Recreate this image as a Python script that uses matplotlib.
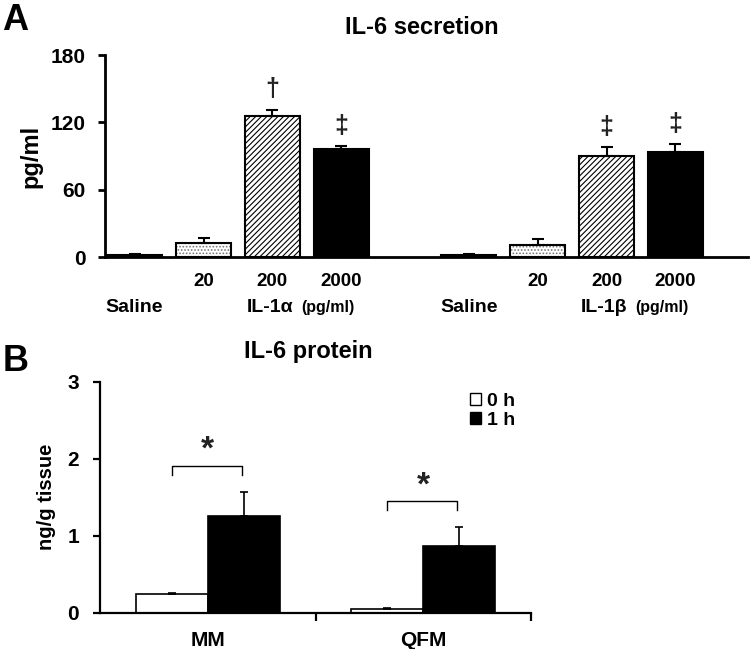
import matplotlib
matplotlib.use("Agg")
import matplotlib.pyplot as plt
import matplotlib.transforms as mtransforms
from matplotlib.patches import Patch

plt.rcParams['font.family'] = ['Liberation Sans', 'DejaVu Sans']
plt.rcParams['font.weight'] = 'bold'
plt.rcParams['hatch.linewidth'] = 0.8

# panel A: IL-6 secretion (pg/ml)
doses = ['', '20', '200', '2000']
alpha_vals = [1.5, 12.5, 126, 96]
alpha_err = [1.0, 4.5, 5.5, 3.0]
beta_vals = [1.5, 11.0, 90.5, 93.5]
beta_err = [0.8, 5.5, 7.5, 7.0]
alpha_marks = ['', '', '\u2020', '\u2021']
beta_marks = ['', '', '\u2021', '\u2021']

# panel B: IL-6 protein (ng/g tissue)
muscles = ['MM', 'QFM']
h0_vals = [0.245, 0.055]
h0_err = [0.01, 0.008]
h1_vals = [1.26, 0.87]
h1_err = [0.31, 0.24]

fig = plt.figure(figsize=(7.5, 6.49), dpi=100)

# ---------- panel A ----------
axA = fig.add_axes([0.14, 0.604, 0.857, 0.311])
xa = [0, 1, 2, 3]
xb = [4.85, 5.85, 6.85, 7.85]
styles = [('white', None, 'black'), ('white', '.....', '#777777'),
          ('white', '//////', 'black'), ('black', None, 'black')]
w = 0.8
for xs, vals, errs, marks in [(xa, alpha_vals, alpha_err, alpha_marks),
                              (xb, beta_vals, beta_err, beta_marks)]:
    for i in range(4):
        fc, hatch, hc = styles[i]
        axA.bar(xs[i], vals[i], w, color=fc, hatch=hatch, edgecolor=hc, linewidth=0)
        axA.bar(xs[i], vals[i], w, fill=False, edgecolor='black', linewidth=1.5)
        axA.errorbar(xs[i], vals[i], yerr=[[0], [errs[i]]], color='black',
                     capsize=4, elinewidth=1.5, capthick=1.5)
        if marks[i]:
            axA.text(xs[i], vals[i] + errs[i] + 18, marks[i], ha='center', va='center',
                     fontsize=18, fontweight='bold', color='#222222')

axA.set_xlim(-0.43, 8.9)
axA.set_ylim(0, 180)
axA.set_yticks([0, 60, 120, 180])
axA.tick_params(axis='y', labelsize=15, width=2, length=5, pad=9)
axA.tick_params(axis='x', length=0, labelbottom=False)
for s in ['top', 'right']:
    axA.spines[s].set_visible(False)
axA.spines['left'].set_linewidth(2)
axA.spines['bottom'].set_linewidth(2)
axA.set_ylabel('pg/ml', fontsize=17, fontweight='bold', labelpad=6)

trA = mtransforms.blended_transform_factory(axA.transData, axA.transAxes)
for xs in (xa, xb):
    for i in range(1, 4):
        axA.text(xs[i], -0.122, doses[i], transform=trA, ha='center', va='center', fontsize=13.5)
    axA.text(xs[0], -0.252, 'Saline', transform=trA, ha='center', va='center', fontsize=14)
axA.text(xa[2] - 0.04, -0.252, 'IL-1\u03b1', transform=trA, ha='center', va='center', fontsize=14)
axA.text(xa[2] + 0.42, -0.252, '(pg/ml)', transform=trA, ha='left', va='center', fontsize=11.5)
axA.text(xb[2] - 0.04, -0.252, 'IL-1\u03b2', transform=trA, ha='center', va='center', fontsize=14)
axA.text(xb[2] + 0.42, -0.252, '(pg/ml)', transform=trA, ha='left', va='center', fontsize=11.5)

fig.text(0.563, 0.958, 'IL-6 secretion', ha='center', va='center', fontsize=17)
fig.text(0.003, 0.968, 'A', ha='left', va='center', fontsize=26)

# ---------- panel B ----------
axB = fig.add_axes([0.1333, 0.0555, 0.575, 0.3565])
pos = [0, 1]
bw = 0.334
for i in range(2):
    axB.bar(pos[i] - bw / 2, h0_vals[i], bw, color='white', edgecolor='black', linewidth=1.2)
    axB.errorbar(pos[i] - bw / 2, h0_vals[i], yerr=[[0], [h0_err[i]]], color='black',
                 capsize=3, elinewidth=1.2, capthick=1.2)
    axB.bar(pos[i] + bw / 2, h1_vals[i], bw, color='black', edgecolor='black', linewidth=1.2)
    axB.errorbar(pos[i] + bw / 2, h1_vals[i], yerr=[[0], [h1_err[i]]], color='black',
                 capsize=3, elinewidth=1.2, capthick=1.2)
    top = h1_vals[i] + h1_err[i] + 0.34
    axB.plot([pos[i] - 0.167, pos[i] - 0.167, pos[i] + 0.157, pos[i] + 0.157],
             [top - 0.12, top, top, top - 0.12], color='black', linewidth=1)
    axB.text(pos[i], top + 0.2, '*', ha='center', va='center', fontsize=24, color='#222222')

axB.set_xlim(-0.5, 1.5)
axB.set_ylim(0, 3)
axB.set_yticks([0, 1, 2, 3])
axB.set_xticks([0.5, 1.5])
axB.set_xticklabels([])
axB.tick_params(axis='y', labelsize=15, width=1.6, length=5, pad=10)
axB.tick_params(axis='x', width=1.6, length=6)
for s in ['top', 'right']:
    axB.spines[s].set_visible(False)
axB.spines['left'].set_linewidth(1.6)
axB.spines['bottom'].set_linewidth(1.6)
axB.set_ylabel('ng/g tissue', fontsize=14.5, fontweight='bold', labelpad=8)
trB = mtransforms.blended_transform_factory(axB.transData, axB.transAxes)
for i in range(2):
    axB.text(pos[i], -0.117, muscles[i], transform=trB, ha='center', va='center', fontsize=15)

handles = [Patch(facecolor='white', edgecolor='black', label='0 h'),
           Patch(facecolor='black', edgecolor='black', label='1 h')]
axB.legend(handles=handles, loc='upper left', bbox_to_anchor=(0.84, 0.985), frameon=False,
           fontsize=14, handlelength=0.55, handleheight=0.55, handletextpad=0.3,
           labelspacing=0.1, borderaxespad=0)

fig.text(0.411, 0.458, 'IL-6 protein', ha='center', va='center', fontsize=17)
fig.text(0.003, 0.443, 'B', ha='left', va='center', fontsize=26)

fig.savefig('out.png', dpi=100)
